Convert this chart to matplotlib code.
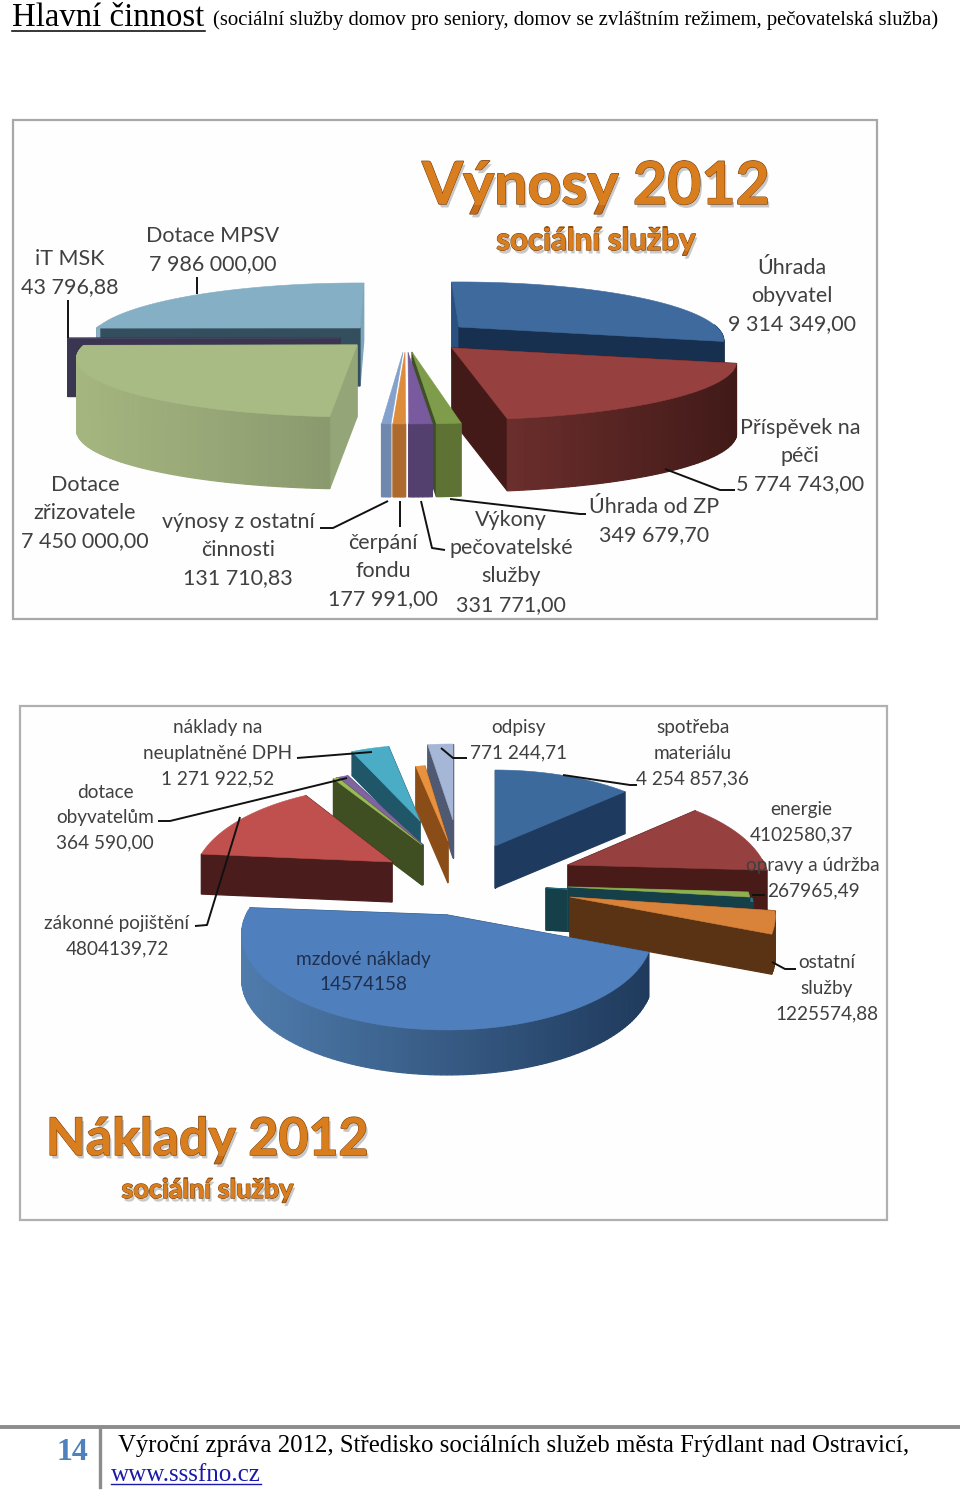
import numpy as np
import matplotlib
matplotlib.use("Agg")
import matplotlib.pyplot as plt
import matplotlib.patheffects as pe
from matplotlib.patches import Rectangle
from matplotlib.colors import to_rgb, LinearSegmentedColormap
from matplotlib.textpath import TextPath
from matplotlib.font_manager import FontProperties
from matplotlib.transforms import Affine2D

# ---------- data ----------
income_names = ["Úhrada obyvatel", "Příspěvek na péči", "Úhrada od ZP", "Výkony pečovatelské služby",
                "čerpání fondu", "výnosy z ostatní činnosti", "Dotace zřizovatele", "iT MSK", "Dotace MPSV"]
income_values = [9314349.00, 5774743.00, 349679.70, 331771.00, 177991.00, 131710.83,
                 7450000.00, 43796.88, 7986000.00]
cost_names = ["spotřeba materiálu", "energie", "opravy a údržba", "cestovné", "ostatní služby",
              "mzdové náklady", "zákonné pojištění", "ostatní", "dotace obyvatelům",
              "náklady na neuplatněné DPH", "daně", "odpisy"]
cost_values = [4254857.36, 4102580.37, 267965.49, 200000.0, 1225574.88, 14574158.0,
               4804139.72, 150000.0, 364590.00, 1271922.52, 300000.0, 771244.71]

# ---------- styles and layout (pixels) ----------
FONT = "Lato"
income_cfg = dict(A=55.4, B=0.23, Rx=277)
cost_cfg = dict(A=91.5, B=0.204, Rx=203)

# apex x, apex y, radius scale, rotation, top, rim left, rim right, start face, end face
income_style = [
    (459, 327, 0.93, -2, "#3f6a9e", "#17304f", "#17304f", "#2a507f", "#18304f"),
    (452, 348, 1.00, -1, "#974040", "#6b2e2c", "#411a18", "#471c1a", "#431a18"),
    (412, 352, 1.00, 0, "#7f9c4a", "#5e7333", "#5e7333", None, "#3f5028"),
    (408, 352, 1.00, 0, "#7a5a9e", "#54406f", "#54406f", None, None),
    (405, 352, 1.00, 0, "#dd8c3c", "#ad6a2c", "#ad6a2c", None, None),
    (403, 352, 1.00, 0, "#84a0cc", "#6f88ae", "#6f88ae", None, None),
    (357, 345, 0.985, 1, "#a9bb85", "#a5b680", "#8b9a6e", "#94a678", "#94a678"),
    (340, 338, 0.98, 1, "#4a4460", "#3a3550", "#3a3550", "#3a3550", "#3a3550"),
    (360, 328, 0.95, 1, "#84afc4", "#8ab0c4", "#8ab0c4", "#334f5e", "#7ca5b9"),
]
income_depth = [72, 72, 73, 73, 73, 73, 72, 58, 58]
income_order = [8, 7, 0, 1, 2, 3, 4, 5, 6]

cost_style = [
    (495, 846, 0.99, 0, "#3d6a9c", "#1f3a5f", "#1f3a5f", "#1f3a5f", "#1f3a5f"),
    (568, 865, 0.97, 0, "#974040", "#481a18", "#481a18", "#481a18", "#481a18"),
    (568, 887, 0.88, 0, "#8fb050", "#153f49", "#153f49", "#5e7333", "#153f49"),
    (546, 888, 1.00, 0, "#2a7a8a", "#153f49", "#153f49", "#153f49", "#153f49"),
    (570, 897, 0.99, 0, "#d9823a", "#5a3314", "#5a3314", "#5a3314", "#5a3314"),
    (447, 915, 0.99, 0, "#4f80bd", "#4f7cad", "#1f3a5c", "#2a4a70", "#2a4a70"),
    (392, 862, 0.96, 0.5, "#c0504d", "#4a1c1c", "#4a1c1c", "#4a1c1c", "#4a1c1c"),
    (422, 845, 0.97, 0, "#9bbb59", "#3f4f22", "#3f4f22", "#3f4f22", "#3f4f22"),
    (423, 845, 1.00, 0, "#8064a2", "#4a3a60", "#4a3a60", "#3a3050", "#4a3a60"),
    (420, 821, 0.90, 0, "#4bacc6", "#1f5668", "#1f5668", "#1f5668", "#1f5668"),
    (448, 841, 0.92, 0, "#e8923f", "#8a4d18", "#8a4d18", "#8a4d18", "#8a4d18"),
    (453, 820, 1.00, 0, "#a5b6d6", "#4f5a72", "#4f5a72", "#4f5a72", "#4f5a72"),
]
cost_depth = [42, 43, 43, 42, 40, 45, 40, 40, 40, 24, 42, 38]
cost_order = [11, 9, 10, 0, 8, 7, 6, 1, 3, 2, 4, 5]

income_labels = [
    ("iT MSK\n43 796,88", 70, 259), ("Dotace MPSV\n7 986 000,00", 213, 236),
    ("Úhrada\nobyvatel\n9 314 349,00", 792, 268), ("Příspěvek na\npéči\n5 774 743,00", 800, 428),
    ("Úhrada od ZP\n349 679,70", 654, 507), ("Výkony\npečovatelské\nslužby\n331 771,00", 511, 520),
    ("čerpání\nfondu\n177 991,00", 383, 543), ("výnosy z ostatní\nčinnosti\n131 710,83", 238, 522),
    ("Dotace\nzřizovatele\n7 450 000,00", 85, 485),
]
cost_labels = [
    ("náklady na\nneuplatněné DPH\n1 271 922,52", 218, 728), ("dotace\nobyvatelům\n364 590,00", 105, 792),
    ("zákonné pojištění\n4804139,72", 117, 924), ("mzdové náklady\n14574158", 363, 959),
    ("odpisy\n771 244,71", 519, 728), ("spotřeba\nmateriálu\n4 254 857,36", 693, 728),
    ("energie\n4102580,37", 801, 810), ("opravy a údržba\n267965,49", 813, 866),
    ("ostatní\nslužby\n1225574,88", 827, 963),
]
income_leaders = [
    [(68, 300), (68, 338)], [(197, 277), (197, 294)], [(665, 469), (720, 490), (735, 490)],
    [(450, 499), (580, 514), (586, 514)], [(421, 501), (432, 548), (445, 550)],
    [(400, 501), (400, 527)], [(388, 501), (333, 528), (320, 528)],
]
cost_leaders = [
    [(297, 758), (372, 752)], [(158, 821), (170, 821), (347, 778)], [(240, 817), (207, 925), (195, 926)],
    [(441, 748), (453, 758), (467, 758)], [(563, 775), (630, 785), (637, 785)],
    [(752, 895), (765, 895)], [(772, 962), (785, 969), (796, 969)],
]


def shade(c0, c1, t):
    a, b = np.array(to_rgb(c0)), np.array(to_rgb(c1))
    return tuple(a + (b - a) * t)


def quad(ax, pts, color, z):
    xs, ys = zip(*pts)
    ax.fill(xs, ys, color=color, lw=0.9, zorder=z)


def draw_pie(ax, values, styles, depths, order, cfg, z0):
    v = np.asarray(values, dtype=float)
    edges = np.concatenate([[0], np.cumsum(v)]) / v.sum() * 360
    z = z0
    for i in order:
        ax0, ay0, sc, rot, top, rl, rr, fs, fe = styles[i]
        n = max(6, int((edges[i + 1] - edges[i]) * 0.8))
        th = np.radians(np.linspace(edges[i] + rot, edges[i + 1] + rot, n))
        Y = np.cos(th)
        den = 1 + cfg["B"] * Y
        px = ax0 + cfg["Rx"] * sc * np.sin(th) / den
        py = ay0 - cfg["A"] * Y / den
        d = depths[i]
        faces = []
        if fs is not None:
            faces.append((ay0 + py[0] + d, [(ax0, ay0), (px[0], py[0]), (px[0], py[0] + d), (ax0, ay0 + d)], fs))
        if fe is not None:
            faces.append((ay0 + py[-1] + d, [(ax0, ay0), (px[-1], py[-1]), (px[-1], py[-1] + d), (ax0, ay0 + d)], fe))
        lo, hi = px.min(), px.max()
        for k in range(len(px) - 1):
            if 0.5 * (Y[k] + Y[k + 1]) > 0.05:
                continue
            t = (0.5 * (px[k] + px[k + 1]) - lo) / max(hi - lo, 1)
            faces.append((2 * (py[k] + d),
                          [(px[k], py[k]), (px[k + 1], py[k + 1]), (px[k + 1], py[k + 1] + d), (px[k], py[k] + d)],
                          shade(rl, rr, t)))
        for _, pts, col in sorted(faces, key=lambda f: f[0]):
            z += 0.001
            quad(ax, pts, col, z)
        z += 0.001
        ax.fill(np.r_[ax0, px], np.r_[ay0, py], color=top, lw=0.4, zorder=z)
        z += 0.001


def draw_labels(ax, labels, spacing, size, color="#404040"):
    for text, cx, y in labels:
        for n, line in enumerate(text.split("\n")):
            c = "#1f2f4f" if text.startswith("mzdové") else color
            ax.text(cx, y + n * spacing, line, ha="center", va="center", fontsize=size,
                    family=FONT, color=c, zorder=50)


def draw_leaders(ax, leaders):
    for ln in leaders:
        xs, ys = zip(*ln)
        ax.plot(xs, ys, color="#111111", lw=1.4, zorder=40, solid_capstyle="butt")


heading_cmap = LinearSegmentedColormap.from_list(
    "heading", ["#8a4510", "#a4560f", "#bd6515", "#d87e1f", "#e48f2e", "#a85a14"])


def heading(ax, fig, x, y, s, size):
    """Real text with a stroke and shadow; a gradient image clipped to the glyphs lies over it."""
    t = ax.text(x, y, s, ha="center", va="baseline", fontsize=size, family=FONT, weight="bold",
                color="#c46c18", zorder=55,
                path_effects=[pe.withSimplePatchShadow(offset=(1.5, -2.5), shadow_rgbFace="#888888", alpha=0.45),
                              pe.withStroke(linewidth=1.0, foreground="#7d430e")])
    ext = t.get_window_extent(fig.canvas.get_renderer())
    tp = TextPath((0, 0), s, size=size, prop=FontProperties(family=FONT, weight="bold"))
    k = fig.dpi / 72
    trans = Affine2D().scale(k, -k).translate(ext.x0, y)
    bb = tp.get_extents().transformed(trans)
    grad = np.linspace(0, 1, 128)[:, None]
    top = y - 0.78 * size * k
    bot = y + 0.02 * size * k
    im = ax.imshow(grad, cmap=heading_cmap, extent=(bb.x0 - 2, bb.x1 + 2, bot, top), aspect="auto",
                   zorder=56, interpolation="bilinear")
    im.set_clip_path(tp, trans + ax.transData)
    # descenders continue in the last colour
    im2 = ax.imshow(np.array([[1.0]]), cmap=LinearSegmentedColormap.from_list("d", ["#d87e1f", "#d87e1f"]),
                    extent=(bb.x0 - 2, bb.x1 + 2, bb.y1 + 1, bot), aspect="auto", zorder=56)
    im2.set_clip_path(tp, trans + ax.transData)


fig = plt.figure(figsize=(9.6, 14.92), dpi=100)
ax = fig.add_axes([0, 0, 1, 1])
ax.axis("off")
ax.set_xlim(0, 960)
ax.set_ylim(1492, 0)
ax.set_autoscale_on(False)

# page header
ax.text(12, 17.5, "Hlavní činnost", family="Liberation Serif", fontsize=23.6, va="center", color="black")
ax.plot([12, 205], [31, 31], color="black", lw=1.1)
ax.text(213, 20, "(sociální služby domov pro seniory, domov se zvláštním režimem, pečovatelská služba)",
        family="Liberation Serif", fontsize=14.92, va="center", color="black")

# chart frames
ax.add_patch(Rectangle((13, 120), 864, 499, fc="#fefefe", ec="#a8a8a8", lw=1.6, zorder=1))
ax.add_patch(Rectangle((20, 706), 867, 514, fc="#fefefe", ec="#b0b0b0", lw=1.6, zorder=1))

draw_pie(ax, income_values, income_style, income_depth, income_order, income_cfg, 5)
draw_pie(ax, cost_values, cost_style, cost_depth, cost_order, cost_cfg, 5)
draw_leaders(ax, income_leaders)
draw_leaders(ax, cost_leaders)
draw_labels(ax, income_labels, 28.2, 15.5)
draw_labels(ax, cost_labels, 25.2, 13.7)

heading(ax, fig, 596, 204, "Výnosy 2012", 42.5)
heading(ax, fig, 596, 250, "sociální služby", 22.5)
heading(ax, fig, 207, 1155, "Náklady 2012", 37.3)
heading(ax, fig, 207, 1198, "sociální služby", 19.4)

# page footer
ax.plot([0, 960], [1427, 1427], color="#8c8c8c", lw=2.8)
ax.plot([100, 100], [1427, 1487], color="#8c8c8c", lw=2.4)
ax.text(72, 1452, "14", family="Liberation Serif", weight="bold", fontsize=23, ha="center", va="center", color="#4f81bd")
ax.text(118, 1446, "Výroční zpráva 2012, Středisko sociálních služeb města Frýdlant nad Ostravicí,",
        family="Liberation Serif", fontsize=17.85, va="center", color="black")
ax.text(111, 1475, "www.sssfno.cz", family="Liberation Serif", fontsize=18.1, va="center", color="#1a1aa8")
ax.plot([111, 261], [1484, 1484], color="#1a1aa8", lw=1)

fig.savefig("out.png", dpi=100, facecolor="white")
